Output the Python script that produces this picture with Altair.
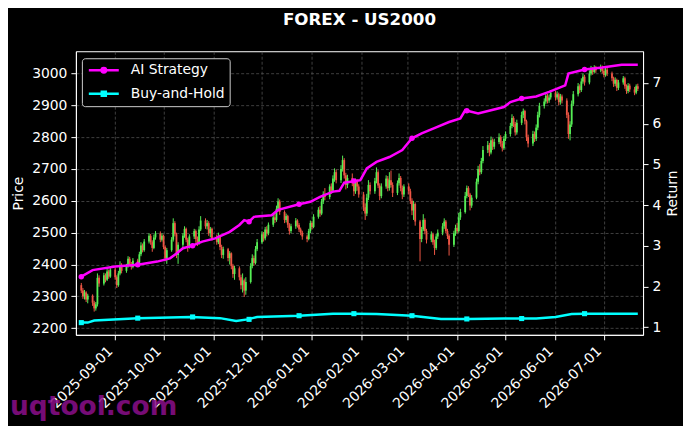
import altair as alt
import pandas as pd

TITLE = "FOREX - US2000"
WATERMARK = "uqtool.com"
SERIES = ["AI Strategy", "Buy-and-Hold"]
SERIES_COLORS = ["#ff00ff", "#00ffff"]
UP_COLOR = "#55ee55"
DOWN_COLOR = "#ee5544"
FONT = "DejaVu Sans"

# Daily candles (business days from 2025-08-11)
FIRST_OPEN = 2335
CLOSE = [
    2318, 2300, 2312, 2290, 2302,
    2280, 2262, 2275, 2358, 2340,
    2366, 2352, 2378, 2362, 2384,
    2360, 2335, 2372, 2398, 2380,
    2395, 2418, 2400, 2392, 2412,
    2405, 2432, 2460, 2445, 2472,
    2490, 2470, 2452, 2485, 2498,
    2478, 2490, 2455, 2420, 2445,
    2478, 2530, 2495, 2430, 2462,
    2490, 2512, 2478, 2455, 2488,
    2505, 2480, 2468, 2510, 2538,
    2520, 2530, 2498, 2512, 2482,
    2470, 2490, 2455, 2430, 2448,
    2420, 2435, 2395, 2370, 2388,
    2360, 2335, 2350, 2318, 2345,
    2395, 2420, 2405, 2448, 2470,
    2495, 2482, 2510, 2498, 2525,
    2548, 2540, 2575, 2598, 2565,
    2540, 2552, 2525, 2505, 2520,
    2538, 2524, 2510, 2500, 2488,
    2480, 2505, 2530, 2518, 2550,
    2572, 2560, 2598, 2620, 2612,
    2645, 2632, 2670, 2690, 2665,
    2700, 2728, 2680, 2650, 2672,
    2655, 2630, 2660, 2645, 2620,
    2580, 2560, 2610, 2650, 2630,
    2662, 2690, 2648, 2615, 2645,
    2670, 2640, 2665, 2650, 2625,
    2655, 2672, 2640, 2620, 2645,
    2630, 2600, 2570, 2590, 2535,
    2480, 2510, 2540, 2505, 2478,
    2495, 2470, 2452, 2488, 2500,
    2520, 2535, 2505, 2490, 2462,
    2498, 2515, 2505, 2548, 2565,
    2615, 2640, 2620, 2585, 2610,
    2660, 2700, 2690, 2725, 2760,
    2775, 2752, 2790, 2770, 2785,
    2800, 2780, 2765, 2795, 2810,
    2835, 2860, 2842, 2815, 2845,
    2870, 2882, 2850, 2800, 2780,
    2810, 2795, 2830, 2870, 2898,
    2912, 2930, 2915, 2925, 2940,
    2925, 2935, 2910, 2928, 2915,
    2870, 2810, 2840, 2905, 2935,
    2960, 2948, 2975, 2990, 2972,
    3000, 3015, 3005, 3018, 3010,
    3020, 3008, 2995, 3012, 3000,
    2985, 2968, 2980, 2955, 2972,
    2985, 2960, 2945, 2962, 2950,
    2940, 2960, 2952,
]
HIGH = [
    2342, 2326, 2320, 2316, 2308,
    2306, 2286, 2282, 2372, 2366,
    2374, 2372, 2386, 2384, 2392,
    2390, 2366, 2380, 2410, 2404,
    2402, 2426, 2424, 2408, 2420,
    2418, 2440, 2470, 2466, 2480,
    2498, 2496, 2476, 2494, 2505,
    2504, 2498, 2494, 2460, 2452,
    2486, 2545, 2536, 2500, 2470,
    2498, 2520, 2516, 2484, 2495,
    2512, 2510, 2488, 2520, 2552,
    2545, 2540, 2536, 2518, 2516,
    2494, 2500, 2494, 2462, 2456,
    2452, 2442, 2438, 2402, 2396,
    2394, 2368, 2372, 2356, 2360,
    2404, 2432, 2428, 2458, 2480,
    2504, 2502, 2518, 2520, 2532,
    2556, 2560, 2585, 2608, 2604,
    2570, 2560, 2556, 2530, 2528,
    2546, 2542, 2530, 2516, 2506,
    2494, 2512, 2538, 2536, 2558,
    2580, 2584, 2606, 2630, 2640,
    2652, 2655, 2680, 2702, 2698,
    2712, 2742, 2734, 2688, 2682,
    2686, 2662, 2670, 2668, 2652,
    2628, 2592, 2622, 2665, 2658,
    2672, 2705, 2696, 2655, 2655,
    2680, 2678, 2690, 2695, 2658,
    2664, 2686, 2678, 2648, 2652,
    2655, 2638, 2608, 2600, 2595,
    2540, 2518, 2558, 2545, 2512,
    2504, 2500, 2478, 2496, 2510,
    2530, 2545, 2540, 2512, 2495,
    2506, 2525, 2530, 2562, 2575,
    2628, 2648, 2646, 2625, 2618,
    2670, 2710, 2715, 2735, 2772,
    2788, 2782, 2802, 2796, 2795,
    2812, 2806, 2788, 2804, 2818,
    2845, 2872, 2866, 2848, 2855,
    2880, 2890, 2886, 2855, 2808,
    2820, 2818, 2840, 2880, 2908,
    2922, 2940, 2936, 2934, 2948,
    2946, 2944, 2940, 2936, 2934,
    2922, 2878, 2850, 2915, 2945,
    2970, 2966, 2985, 3000, 2996,
    3010, 3024, 3020, 3026, 3024,
    3028, 3025, 3014, 3020, 3018,
    3006, 2990, 2988, 2984, 2980,
    2992, 2990, 2966, 2970, 2968,
    2958, 2966, 2968,
]
LOW = [
    2310, 2292, 2290, 2282, 2278,
    2270, 2252, 2255, 2268, 2330,
    2334, 2344, 2348, 2355, 2358,
    2352, 2326, 2330, 2366, 2372,
    2374, 2390, 2394, 2384, 2388,
    2396, 2400, 2426, 2438, 2440,
    2466, 2462, 2440, 2448, 2478,
    2470, 2472, 2448, 2410, 2402,
    2440, 2472, 2488, 2420, 2402,
    2455, 2484, 2470, 2440, 2450,
    2480, 2468, 2458, 2462, 2505,
    2512, 2510, 2490, 2485, 2475,
    2462, 2464, 2445, 2420, 2418,
    2410, 2400, 2385, 2358, 2352,
    2350, 2322, 2312, 2298, 2305,
    2340, 2388, 2396, 2400, 2442,
    2465, 2472, 2476, 2488, 2492,
    2518, 2530, 2534, 2566, 2556,
    2530, 2532, 2515, 2494, 2498,
    2512, 2516, 2502, 2492, 2478,
    2470, 2476, 2498, 2510, 2514,
    2544, 2550, 2555, 2590, 2602,
    2605, 2622, 2626, 2660, 2655,
    2656, 2692, 2670, 2636, 2640,
    2646, 2615, 2622, 2632, 2610,
    2568, 2540, 2552, 2602, 2620,
    2622, 2655, 2640, 2602, 2608,
    2638, 2630, 2632, 2642, 2612,
    2618, 2648, 2630, 2605, 2612,
    2620, 2590, 2555, 2540, 2522,
    2410, 2470, 2505, 2495, 2466,
    2470, 2462, 2430, 2446, 2480,
    2492, 2512, 2498, 2480, 2428,
    2455, 2490, 2498, 2500, 2540,
    2560, 2608, 2612, 2570, 2578,
    2605, 2652, 2680, 2684, 2718,
    2750, 2740, 2746, 2760, 2762,
    2778, 2770, 2755, 2760, 2788,
    2802, 2828, 2832, 2805, 2808,
    2838, 2860, 2840, 2788, 2768,
    2772, 2785, 2788, 2822, 2862,
    2890, 2905, 2906, 2908, 2918,
    2915, 2918, 2900, 2902, 2906,
    2860, 2795, 2790, 2832, 2898,
    2928, 2938, 2942, 2968, 2962,
    2966, 2994, 2996, 3000, 3002,
    3004, 3000, 2988, 2990, 2992,
    2976, 2958, 2960, 2945, 2948,
    2965, 2952, 2936, 2938, 2942,
    2932, 2935, 2945,
]

# Return lines (right axis)
AI_DATES = ["2025-08-11", "2025-08-18", "2025-09-01", "2025-09-15", "2025-09-27",
            "2025-10-05", "2025-10-09", "2025-10-13", "2025-10-18", "2025-10-25",
            "2025-11-02", "2025-11-11", "2025-11-17", "2025-11-20", "2025-11-23",
            "2025-11-26", "2025-12-07", "2025-12-11", "2025-12-24", "2025-12-31",
            "2026-01-06", "2026-01-14", "2026-01-18", "2026-01-21", "2026-01-26",
            "2026-01-31", "2026-02-04", "2026-02-10", "2026-02-18", "2026-02-26",
            "2026-03-04", "2026-03-10", "2026-03-19", "2026-03-27", "2026-04-03",
            "2026-04-06", "2026-04-14", "2026-04-22", "2026-04-30", "2026-05-04",
            "2026-05-11", "2026-05-20", "2026-05-28", "2026-06-07", "2026-06-09",
            "2026-06-19", "2026-06-30", "2026-07-12", "2026-07-22"]
AI_RETURN = [2.24, 2.40, 2.49, 2.53, 2.61,
             2.69, 2.81, 2.94, 2.99, 3.10,
             3.18, 3.34, 3.51, 3.63, 3.59,
             3.71, 3.75, 3.88, 4.02, 4.08,
             4.20, 4.33, 4.35, 4.55, 4.58,
             4.61, 4.90, 5.06, 5.18, 5.35,
             5.64, 5.76, 5.91, 6.04, 6.13,
             6.33, 6.25, 6.33, 6.41, 6.53,
             6.62, 6.67, 6.78, 6.94, 7.23,
             7.33, 7.38, 7.45, 7.45]
BH_DATES = ["2025-08-11", "2025-08-15", "2025-08-19", "2025-09-15", "2025-10-18",
            "2025-11-05", "2025-11-15", "2025-11-22", "2025-11-28", "2025-12-24",
            "2026-01-14", "2026-01-27", "2026-02-10", "2026-03-04", "2026-03-22",
            "2026-04-08", "2026-04-30", "2026-05-20", "2026-06-01", "2026-06-11",
            "2026-06-19", "2026-07-22"]
BH_RETURN = [1.11, 1.11, 1.16, 1.22, 1.25,
             1.22, 1.15, 1.19, 1.25, 1.28,
             1.33, 1.33, 1.32, 1.28, 1.20,
             1.20, 1.21, 1.21, 1.25, 1.32,
             1.33, 1.33]
MARK_DATES = ["2025-08-11", "2025-09-15", "2025-10-19", "2025-11-23", "2025-12-24",
              "2026-01-27", "2026-03-04", "2026-04-07", "2026-05-11", "2026-06-19"]
AI_MARK = [2.24, 2.53, 3.00, 3.59, 4.02, 4.59, 5.64, 6.32, 6.62, 7.33]
BH_MARK = [1.11, 1.22, 1.25, 1.19, 1.28, 1.33, 1.28, 1.20, 1.21, 1.33]

TICK_MONTHS = [(2025, 9), (2025, 10), (2025, 11), (2025, 12), (2026, 1), (2026, 2),
               (2026, 3), (2026, 4), (2026, 5), (2026, 6), (2026, 7)]
PRICE_TICKS = [2200, 2300, 2400, 2500, 2600, 2700, 2800, 2900, 3000]
RETURN_TICKS = [1, 2, 3, 4, 5, 6, 7]

# ---- tables ----
dates = pd.bdate_range("2025-08-11", periods=len(CLOSE))
opens = [FIRST_OPEN] + CLOSE[:-1]
price_df = pd.DataFrame({"date": dates.strftime("%Y-%m-%dT00:00:00"),
                         "open": opens, "high": HIGH, "low": LOW, "close": CLOSE})
ai_df = pd.DataFrame({"date": [d + "T00:00:00" for d in AI_DATES], "ret": AI_RETURN})
bh_df = pd.DataFrame({"date": [d + "T00:00:00" for d in BH_DATES], "ret": BH_RETURN})
mark_df = pd.DataFrame({"date": [d + "T00:00:00" for d in MARK_DATES], "ai": AI_MARK, "bh": BH_MARK})
legend_df = pd.DataFrame({"series": SERIES})

# ---- encodings ----
x_enc = alt.X(
    "date:T",
    scale=alt.Scale(domain=[alt.DateTime(year=2025, month=8, date=10, hours=18),
                            alt.DateTime(year=2026, month=7, date=22, hours=4)]),
    axis=alt.Axis(values=[alt.DateTime(year=y, month=m, date=1) for y, m in TICK_MONTHS],
                  format="%Y-%m-%d", labelAngle=-45, labelAlign="right",
                  labelBaseline="middle", labelPadding=9, labelOffset=-5,
                  labelOverlap=False, labelFlush=False, title=None, grid=True),
)
price_scale = alt.Scale(domain=[2179, 3070], nice=False, zero=False)
price_axis = alt.Axis(values=PRICE_TICKS, format="d", title="Price", grid=True,
                      titlePadding=6, labelOverlap=False)
ret_scale = alt.Scale(domain=[0.81, 7.78], nice=False, zero=False)
ret_axis = alt.Axis(values=RETURN_TICKS, format="d", title="Return", orient="right", grid=False,
                    titleAngle=270, titleBaseline="top", titlePadding=5, labelOverlap=False)

candle_color = alt.condition("datum.close >= datum.open", alt.value(UP_COLOR), alt.value(DOWN_COLOR))
base = alt.Chart(price_df).encode(x=x_enc)
wick = base.mark_rule(strokeWidth=1).encode(
    y=alt.Y("low:Q", scale=price_scale, axis=price_axis), y2="high:Q", color=candle_color)
body = base.mark_bar(size=1.8).encode(
    y=alt.Y("open:Q", scale=price_scale, axis=price_axis), y2="close:Q", color=candle_color)
candles = alt.layer(wick, body)

ai_line = alt.Chart(ai_df).mark_line(strokeWidth=2.5, color=SERIES_COLORS[0]).encode(
    x=x_enc, y=alt.Y("ret:Q", scale=ret_scale, axis=ret_axis))
bh_line = alt.Chart(bh_df).mark_line(strokeWidth=2.5, color=SERIES_COLORS[1]).encode(
    x=x_enc, y=alt.Y("ret:Q", scale=ret_scale, axis=ret_axis))
ai_pts = alt.Chart(mark_df).mark_point(shape="circle", filled=True, size=30, opacity=1,
                                       color=SERIES_COLORS[0]).encode(
    x=x_enc, y=alt.Y("ai:Q", scale=ret_scale, axis=ret_axis))
bh_pts = alt.Chart(mark_df).mark_point(shape="square", filled=True, size=26, opacity=1,
                                       color=SERIES_COLORS[1]).encode(
    x=x_enc, y=alt.Y("bh:Q", scale=ret_scale, axis=ret_axis))

# legend carrier: zero-size points whose legend shows line + marker symbols
AI_PATH = "M-3,0H3M-0.45,0A0.45,0.45,0,1,1,0.45,0A0.45,0.45,0,1,1,-0.45,0Z"
BH_PATH = "M-3,0H3M-0.4,-0.4H0.4V0.4H-0.4Z"
legend = alt.Legend(
    title=None, orient="none", legendX=6, legendY=7,
    fillColor="black", strokeColor="#cccccc", cornerRadius=3,
    labelColor="white", labelFont=FONT, labelFontSize=13.9,
    symbolSize=100, symbolStrokeWidth=2.5, symbolOffset=10, labelOffset=20,
    symbolOpacity=1,
)
legend_layer = alt.Chart(legend_df).mark_point(filled=True, size=0, strokeWidth=2.5, opacity=1).encode(
    color=alt.Color("series:N", scale=alt.Scale(domain=SERIES, range=SERIES_COLORS), legend=legend),
    stroke=alt.Stroke("series:N", scale=alt.Scale(domain=SERIES, range=SERIES_COLORS), legend=legend),
    shape=alt.Shape("series:N", scale=alt.Scale(domain=SERIES, range=[AI_PATH, BH_PATH]), legend=legend),
)
returns = alt.layer(ai_line, bh_line, ai_pts, bh_pts, legend_layer)

wm = alt.Chart(pd.DataFrame({"t": [WATERMARK]})).mark_text(
    align="left", baseline="alphabetic", fontSize=26.5, fontWeight="bold", font=FONT,
    color="#8b0f8b", opacity=0.85,
).encode(x=alt.value(-66), y=alt.value(364), text="t:N")

chart = alt.layer(candles, returns, wm).resolve_scale(y="independent").properties(
    width=568, height=284,
    autosize=alt.AutoSizeParams(type="none"),
    padding={"left": 68, "top": 43, "right": 40, "bottom": 91},
    background="black",
    title=alt.Title(TITLE, fontSize=16.7, fontWeight="bold", color="white", font=FONT,
                    anchor="middle", offset=23),
).configure_axis(
    labelFont=FONT, labelFontSize=13.9, labelColor="white",
    titleFont=FONT, titleFontSize=13.9, titleColor="white", titleFontWeight="normal",
    domainColor="white", tickColor="white", tickSize=5, labelPadding=4,
    gridColor="#5a5a5a", gridDash=[3, 2], gridWidth=0.7,
).configure_legend(
    padding=5, rowPadding=7.7,
).configure_view(stroke="white", strokeWidth=1)

chart.save("out.html", embed_options={"renderer": "svg", "actions": False})
